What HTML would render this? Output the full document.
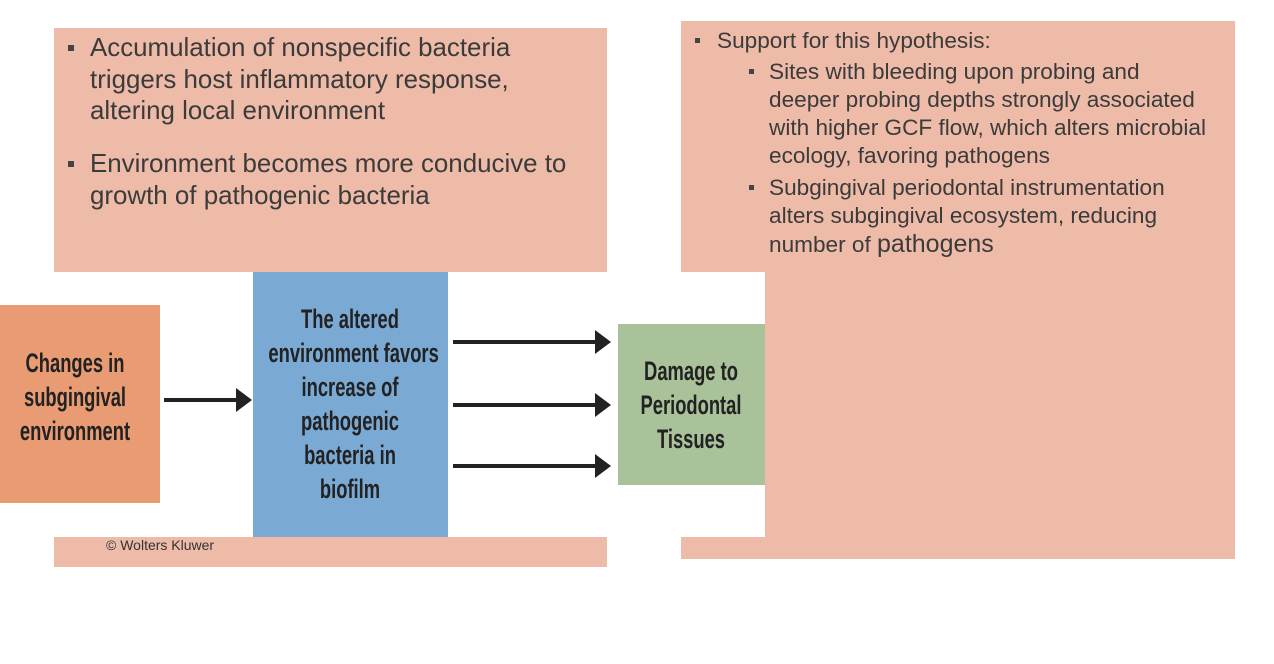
<!DOCTYPE html>
<html><head><style>
body{margin:0;width:1274px;height:664px;background:#fff;position:relative;overflow:hidden;font-family:"Liberation Sans",sans-serif}
.a{position:absolute}
.pink{background:#EDBBA8}
.t{position:absolute;color:#3b3b3b;white-space:nowrap}
.L{font-size:25.9px;line-height:31.5px}
.R{font-size:22.6px;line-height:28px}
.b{position:absolute;width:6px;height:6px;background:#444}
.d{position:absolute;font-weight:bold;color:#222;font-size:27px;line-height:34px;text-align:center;transform:scaleX(0.68);white-space:nowrap}
.arr{position:absolute;height:4px;background:#222}
.hd{position:absolute;width:0;height:0;border-top:12px solid transparent;border-bottom:12px solid transparent;border-left:16px solid #222}
</style></head><body>
<div class="a pink" style="left:54px;top:28px;width:553px;height:539px"></div>
<div class="a pink" style="left:681px;top:21px;width:554px;height:538px"></div>
<div class="a" style="left:0;top:272px;width:765px;height:265px;background:#fff"></div>

<div class="b" style="left:68px;top:45px"></div>
<div class="t L" style="left:90px;top:33px">Accumulation of nonspecific bacteria<br>triggers host inflammatory response,<br>altering local environment</div>
<div class="b" style="left:68px;top:161px"></div>
<div class="t L" style="left:90px;top:149px">Environment becomes more conducive to<br>growth of pathogenic bacteria</div>

<div class="b" style="left:695px;top:38px;width:5px;height:5px"></div>
<div class="t R" style="left:717px;top:27px">Support for this hypothesis:</div>
<div class="b" style="left:749px;top:69px;width:5px;height:5px"></div>
<div class="t R" style="left:769px;top:58px">Sites with bleeding upon probing and<br>deeper probing depths strongly associated<br>with higher GCF flow, which alters microbial<br>ecology, favoring pathogens</div>
<div class="b" style="left:749px;top:185px;width:5px;height:5px"></div>
<div class="t R" style="left:769px;top:174px">Subgingival periodontal instrumentation<br>alters subgingival ecosystem, reducing<br>number of <span style="font-size:25px">pathogens</span></div>

<div class="a" style="left:0;top:305px;width:160px;height:198px;background:#E99B74"></div>
<div class="a" style="left:253px;top:272px;width:195px;height:265px;background:#7AAAD4"></div>
<div class="a" style="left:618px;top:324px;width:147px;height:161px;background:#A9C29A"></div>

<div class="d" style="left:-30px;width:210px;top:346px">Changes in<br>subgingival<br>environment</div>
<div class="d" style="left:230px;width:240px;top:302px">The altered<br>environment favors<br>increase of<br>pathogenic<br>bacteria in<br>biofilm</div>
<div class="d" style="left:591px;width:200px;top:354px">Damage to<br>Periodontal<br>Tissues</div>

<div class="arr" style="left:164px;top:398px;width:74px"></div><div class="hd" style="left:236px;top:388px"></div>
<div class="arr" style="left:453px;top:340px;width:144px"></div><div class="hd" style="left:595px;top:330px"></div>
<div class="arr" style="left:453px;top:403px;width:144px"></div><div class="hd" style="left:595px;top:393px"></div>
<div class="arr" style="left:453px;top:464px;width:144px"></div><div class="hd" style="left:595px;top:454px"></div>

<div class="t" style="left:106px;top:537px;font-size:14px;color:#333">© Wolters Kluwer</div>
</body></html>
